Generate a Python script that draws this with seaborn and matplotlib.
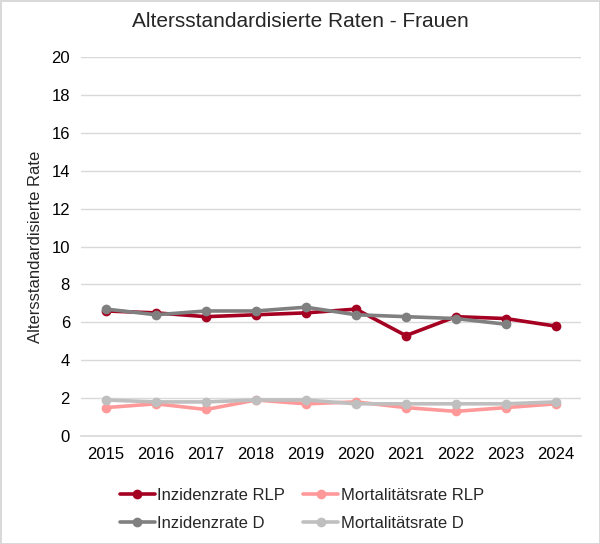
import pandas as pd
import numpy as np
import matplotlib
matplotlib.use("Agg")
import matplotlib.pyplot as plt
import seaborn as sns

years = [2015, 2016, 2017, 2018, 2019, 2020, 2021, 2022, 2023, 2024]
inzidenz_rlp = [6.6, 6.5, 6.3, 6.4, 6.5, 6.7, 5.3, 6.3, 6.2, 5.8]
mortalitaet_rlp = [1.5, 1.7, 1.4, 1.9, 1.7, 1.8, 1.5, 1.3, 1.5, 1.7]
inzidenz_d = [6.7, 6.4, 6.6, 6.6, 6.8, 6.4, 6.3, 6.2, 5.9, np.nan]
mortalitaet_d = [1.9, 1.8, 1.8, 1.9, 1.9, 1.7, 1.7, 1.7, 1.7, 1.8]

series = {
    "Inzidenzrate RLP": inzidenz_rlp,
    "Mortalitätsrate RLP": mortalitaet_rlp,
    "Inzidenzrate D": inzidenz_d,
    "Mortalitätsrate D": mortalitaet_d,
}
colors = {
    "Inzidenzrate RLP": "#A50021",
    "Mortalitätsrate RLP": "#FF9999",
    "Inzidenzrate D": "#808080",
    "Mortalitätsrate D": "#BFBFBF",
}

df = pd.concat(
    [pd.DataFrame({"Jahr": years, "Rate": vals, "Serie": name}) for name, vals in series.items()],
    ignore_index=True,
)

sns.set_theme(style="white")
plt.rcParams["font.family"] = ["Liberation Sans", "DejaVu Sans"]

fig = plt.figure(figsize=(6.0, 5.44), dpi=100)
fig.patch.set_edgecolor("#d9d9d9")
fig.patch.set_linewidth(2)
ax = fig.add_axes([0.135, 0.1985, 0.833, 0.6965])

sns.lineplot(data=df, x="Jahr", y="Rate", hue="Serie", hue_order=list(series.keys()),
             palette=colors, marker="o", markersize=7, markeredgewidth=0,
             linewidth=2.6, ax=ax, legend=False)

ax.set_xlim(2014.5, 2024.5)
ax.set_ylim(0, 20)
ax.set_yticks(range(0, 21, 2))
ax.set_xticks(years)
ax.set_xticklabels([str(y) for y in years])
ax.yaxis.grid(True, color="#d9d9d9", linewidth=1)
ax.set_axisbelow(True)
for s in ["top", "right", "left"]:
    ax.spines[s].set_visible(False)
ax.spines["bottom"].set_color("#d9d9d9")
ax.tick_params(axis="both", length=0, labelsize=12, colors="black", pad=8)
ax.set_xlabel("")
ax.set_ylabel("Altersstandardisierte Rate", fontsize=12, labelpad=6)
fig.suptitle("Altersstandardisierte Raten - Frauen", fontsize=15, y=0.978)

order = ["Inzidenzrate RLP", "Inzidenzrate D", "Mortalitätsrate RLP", "Mortalitätsrate D"]
handles = [plt.Line2D([], [], color=colors[n], linewidth=2.6, marker="o", markersize=7,
                      markeredgewidth=0) for n in order]
fig.legend(handles, order, loc="lower center", bbox_to_anchor=(0.503, -0.003), ncol=2,
           frameon=False, fontsize=12, handlelength=2.1, handletextpad=0.15,
           columnspacing=1.1, labelspacing=0.75)

fig.savefig("out.png", dpi=100)
